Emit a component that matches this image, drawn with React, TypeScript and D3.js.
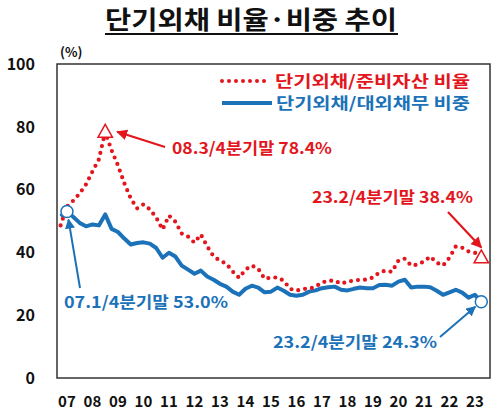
import * as d3 from "d3";

const WIDTH = 500;
const HEIGHT = 417;
const PLOT = { left: 57, top: 64, right: 490, bottom: 378 };

// quarterly, 2006 Q4 .. 2023 Q2
const years = ["07", "08", "09", "10", "11", "12", "13", "14", "15", "16", "17", "18", "19", "20", "21", "22", "23"];
const yTicks = [0, 20, 40, 60, 80, 100];

// short-term external debt / reserves (%)
const reserveRatio = [
  48.6,
  54.6, 56.5, 58.8, 61.7,
  65.8, 69.6, 78.4, 72.5,
  67.7, 62.0, 57.2, 54.0,
  55.3, 53.7, 51.1, 47.3,
  51.7, 49.8, 46.0, 45.0,
  43.1, 45.7, 41.9, 38.7,
  37.4, 36.4, 33.9, 31.9,
  34.5, 35.8, 34.8, 31.6,
  32.0, 32.0, 31.0, 28.4,
  27.8, 28.4, 28.4, 29.1,
  30.4, 31.0, 31.0, 30.0,
  30.7, 31.0, 31.3, 31.3,
  32.0, 33.6, 34.2, 33.8,
  37.4, 38.0, 35.8, 36.1,
  37.1, 38.7, 36.7, 35.8,
  38.3, 41.9, 41.5, 40.3,
  39.9, 38.4,
];

// short-term external debt / total external debt (%)
const debtShare = [
  51.5,
  53.0, 51.3, 49.4, 48.3,
  48.9, 48.6, 52.1, 47.5,
  46.5, 44.4, 42.5, 43.0,
  43.2, 42.8, 41.4, 38.3,
  39.9, 38.7, 35.8, 34.5,
  33.2, 34.2, 32.3, 31.3,
  30.0, 29.1, 27.5, 26.5,
  28.4, 29.4, 28.8, 27.3,
  27.5, 28.8, 27.8, 26.5,
  26.2, 26.5, 27.5, 27.9,
  28.6, 28.9, 29.1, 28.1,
  27.9, 28.4, 28.8, 28.6,
  28.6, 29.6, 29.7, 29.4,
  30.7, 31.3, 28.8, 29.1,
  29.1, 28.9, 27.8, 26.5,
  27.3, 28.1, 27.2, 25.6,
  26.5, 24.3,
];

const RED = "#e3161d";
const BLUE = "#1c72b9";
const FONT = "'Noto Sans CJK KR', 'Noto Sans', sans-serif";

export default function App() {
  const n = reserveRatio.length;
  const xScale = d3.scaleLinear().domain([0, n - 1]).range([60.6, 481.3]);
  const yScale = d3.scaleLinear().domain([0, 100]).range([PLOT.bottom, PLOT.top]);

  const line = d3
    .line<number>()
    .x((_, i) => xScale(i))
    .y((d) => yScale(d));

  // highlighted points
  const peakIdx = 7; // 08 Q3
  const lastIdx = n - 1; // 23 Q2
  const firstIdx = 1; // 07 Q1

  const tri = (cx: number, cy: number, s: number) =>
    `M${cx},${cy - s * 0.62} L${cx + s * 0.6},${cy + s * 0.45} L${cx - s * 0.6},${cy + s * 0.45} Z`;

  const peakX = xScale(peakIdx);
  const peakY = yScale(reserveRatio[peakIdx]);
  const lastRX = xScale(lastIdx);
  const lastRY = yScale(reserveRatio[lastIdx]);
  const firstBX = xScale(firstIdx);
  const firstBY = yScale(debtShare[firstIdx]);
  const lastBX = xScale(lastIdx);
  const lastBY = yScale(debtShare[lastIdx]);

  return (
    <svg width={WIDTH} height={HEIGHT} style={{ position: "absolute", left: 0, top: 0, background: "#fff" }}>
      <defs>
        <marker id="arrRed" viewBox="0 0 10 10" refX="9" refY="5" markerWidth="5" markerHeight="5" orient="auto">
          <path d="M0,0 L10,5 L0,10 Z" fill={RED} />
        </marker>
        <marker id="arrBlue" viewBox="0 0 10 10" refX="9" refY="5" markerWidth="5" markerHeight="5" orient="auto">
          <path d="M0,0 L10,5 L0,10 Z" fill={BLUE} />
        </marker>
      </defs>

      {/* title */}
      <text x={251} y={29} textAnchor="middle" fontFamily={FONT} fontWeight={700} fontSize={25}
        textLength={292} lengthAdjust="spacingAndGlyphs" fill="#111">
        단기외채 비율·비중 추이
      </text>
      <line x1={105} x2={398} y1={34} y2={34} stroke="#111" strokeWidth={2} />

      {/* plot frame */}
      <rect x={PLOT.left} y={PLOT.top} width={PLOT.right - PLOT.left} height={PLOT.bottom - PLOT.top}
        fill="none" stroke="#333" strokeWidth={1.5} />

      <text x={60} y={57} fontFamily={FONT} fontWeight={700} fontSize={13} fill="#111">(%)</text>

      {yTicks.map((t) => (
        <text key={t} x={35} y={yScale(t)} dy="0.36em" textAnchor="end" fontFamily={FONT}
          fontWeight={700} fontSize={16} fill="#111">
          {t}
        </text>
      ))}

      {years.map((yr, i) => (
        <text key={yr} x={xScale(1 + i * 4)} y={402} dy="0.36em" textAnchor="middle" fontFamily={FONT}
          fontWeight={700} fontSize={15} fill="#111">
          {yr}
        </text>
      ))}

      {/* series */}
      <path d={line(debtShare) ?? ""} fill="none" stroke={BLUE} strokeWidth={4} strokeLinejoin="round" />
      <path d={line(reserveRatio) ?? ""} fill="none" stroke={RED} strokeWidth={4.2}
        strokeDasharray="0 7" strokeLinecap="round" />

      {/* markers */}
      <path d={tri(peakX, peakY, 12)} fill="#fff" stroke={RED} strokeWidth={1.5} />
      <path d={tri(lastRX, lastRY, 12)} fill="#fff" stroke={RED} strokeWidth={1.5} />
      <circle cx={firstBX} cy={firstBY} r={6} fill="#fff" stroke={BLUE} strokeWidth={1.5} />
      <circle cx={lastBX} cy={lastBY} r={6} fill="#fff" stroke={BLUE} strokeWidth={1.5} />

      {/* legend */}
      <line x1={222} x2={268} y1={81} y2={81} stroke={RED} strokeWidth={4} strokeDasharray="0 7" strokeLinecap="round" />
      <text x={275} y={81} dy="0.36em" fontFamily={FONT} fontWeight={700} fontSize={16} fill={RED}
        textLength={195} lengthAdjust="spacingAndGlyphs">
        단기외채/준비자산 비율
      </text>
      <line x1={222} x2={272} y1={103} y2={103} stroke={BLUE} strokeWidth={4} />
      <text x={276} y={103} dy="0.36em" fontFamily={FONT} fontWeight={700} fontSize={16} fill={BLUE}
        textLength={194} lengthAdjust="spacingAndGlyphs">
        단기외채/대외채무 비중
      </text>

      {/* annotations */}
      <line x1={165} y1={147} x2={peakX + 12} y2={peakY} stroke={RED} strokeWidth={2.2} markerEnd="url(#arrRed)" />
      <text x={172} y={148} dy="0.36em" fontFamily={FONT} fontWeight={700} fontSize={16} fill={RED}
        textLength={160} lengthAdjust="spacingAndGlyphs">
        08.3/4분기말 78.4%
      </text>

      <line x1={448} y1={212} x2={lastRX} y2={lastRY - 10} stroke={RED} strokeWidth={2.2} markerEnd="url(#arrRed)" />
      <text x={312} y={197} dy="0.36em" fontFamily={FONT} fontWeight={700} fontSize={16} fill={RED}
        textLength={161} lengthAdjust="spacingAndGlyphs">
        23.2/4분기말 38.4%
      </text>

      <line x1={80} y1={288} x2={firstBX + 1.5} y2={firstBY + 8} stroke={BLUE} strokeWidth={2} markerEnd="url(#arrBlue)" />
      <text x={64} y={302} dy="0.36em" fontFamily={FONT} fontWeight={700} fontSize={16} fill={BLUE}
        textLength={164} lengthAdjust="spacingAndGlyphs">
        07.1/4분기말 53.0%
      </text>

      <line x1={440} y1={337} x2={lastBX - 6} y2={lastBY + 5} stroke={BLUE} strokeWidth={2} markerEnd="url(#arrBlue)" />
      <text x={273} y={342} dy="0.36em" fontFamily={FONT} fontWeight={700} fontSize={16} fill={BLUE}
        textLength={164} lengthAdjust="spacingAndGlyphs">
        23.2/4분기말 24.3%
      </text>
    </svg>
  );
}
